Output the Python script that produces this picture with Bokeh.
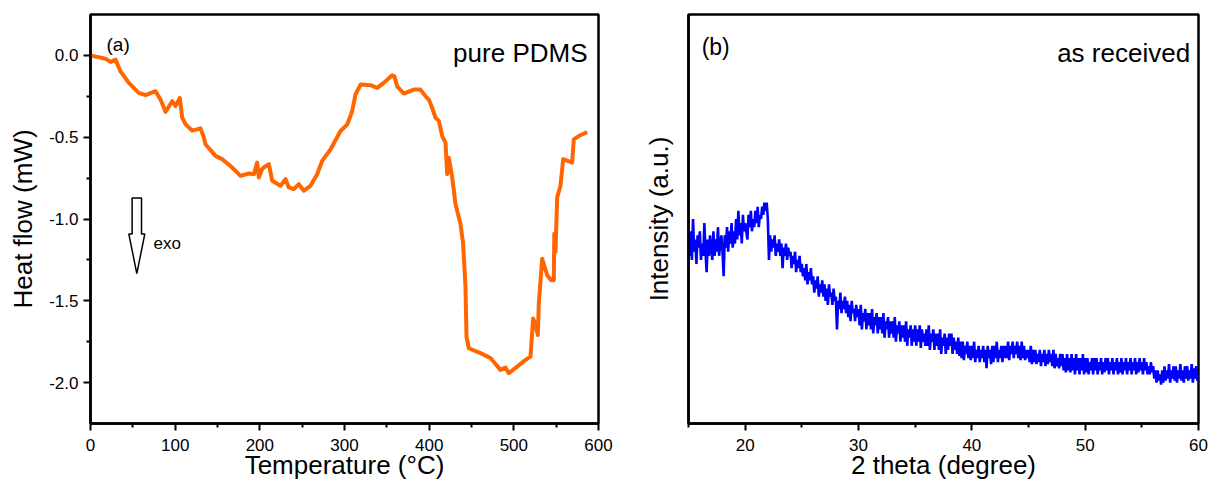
from bokeh.plotting import figure
from bokeh.layouts import row
from bokeh.models import Range1d, FixedTicker, Label, CustomJSTickFormatter
from bokeh.embed import file_html
from bokeh.resources import INLINE

FONT = "Liberation Sans"

# ---------------- data: (a) DSC of pure PDMS ----------------
dsc_temp = [0, 17.7, 23.6, 29.5, 35.4, 45.3, 57, 65, 76.8, 82.7,
            88.6, 96.5, 100.4, 105.5, 108.3, 112.2, 120.1, 129.9, 133.8, 135.8,
            147.6, 155.5, 167.3, 177.2, 187, 193, 196.8, 198.8, 202.7, 204.7,
            210.6, 214.6, 224.4, 230.3, 234.2, 240.1, 246, 252, 259.8, 267.7,
            273.6, 283.5, 295.3, 303.2, 309.1, 313, 318.9, 330.7, 338.6, 346.4,
            356.3, 359, 362.2, 370, 381.8, 389.7, 395.6, 399.6, 403.5, 407.5,
            411.4, 415.4, 419.3, 421.3, 423.2, 427.2, 431.1, 437, 440.1, 442.9,
            444.1, 446.8, 460.6, 472.4, 484.2, 490.1, 494, 503.9, 513.8, 519.7,
            522.8, 525.6, 528.3, 529.5, 533.5, 539.4, 544.1, 547.2, 547.8, 549.2,
            551.2, 555.1, 558.3, 568.9, 570.8, 576.7, 586.6]
dsc_heat = [0, -0.02, -0.04, -0.026, -0.097, -0.168, -0.229, -0.243, -0.219, -0.27,
            -0.345, -0.28, -0.31, -0.26, -0.38, -0.42, -0.46, -0.446, -0.50, -0.543,
            -0.614, -0.634, -0.685, -0.736, -0.722, -0.726, -0.655, -0.746, -0.695, -0.685,
            -0.665, -0.766, -0.797, -0.756, -0.807, -0.817, -0.787, -0.827, -0.797, -0.726,
            -0.645, -0.574, -0.462, -0.422, -0.341, -0.239, -0.178, -0.182, -0.199, -0.168,
            -0.122, -0.128, -0.189, -0.233, -0.209, -0.209, -0.249, -0.27, -0.32, -0.381,
            -0.40, -0.493, -0.533, -0.726, -0.625, -0.746, -0.908, -1.03, -1.15, -1.415,
            -1.72, -1.79, -1.82, -1.85, -1.922, -1.908, -1.942, -1.902, -1.861, -1.841,
            -1.608, -1.648, -1.709, -1.517, -1.243, -1.344, -1.375, -1.375, -1.09, -1.2,
            -0.868, -0.797, -0.634, -0.655, -0.513, -0.493, -0.468]

# ---------------- data: (b) XRD, as received (0.1 degree steps) ----------------
xrd_start = 15.0   # degree
xrd_step = 0.1     # degree
xrd_intensity = [
    44, 41, 47, 40, 50, 42, 45, 39, 46, 43,      # 15
    47, 40, 44, 41, 49, 42, 37, 45, 41, 46,      # 16
    43, 40, 47, 41, 45, 42, 48, 41, 44, 46,      # 17
    42, 36, 46, 43, 48, 42, 47, 44, 49, 43,      # 18
    47, 44, 50, 45, 52, 46, 49, 44, 51, 47,      # 19
    49, 47, 45, 51, 48, 52, 47, 50, 48, 52,      # 20
    49, 53, 48, 51, 50, 53, 51, 54, 52, 54,      # 21
    50, 40, 46, 42, 45, 43, 46, 41, 44, 42,      # 22
    45, 41, 44, 38, 43, 41, 44, 40, 43, 41,      # 23
    42, 38, 41, 39, 42, 37, 40, 38, 41, 37,      # 24
    39, 36, 38, 35, 39, 34, 37, 35, 38, 34,      # 25
    36, 32, 35, 33, 36, 31, 34, 32, 35, 31,      # 26
    34, 30, 33, 29, 34, 31, 32, 29, 33, 30,      # 27
    31, 23, 30, 28, 32, 27, 30, 28, 31, 27,      # 28
    30, 26, 29, 25, 30, 27, 28, 25, 29, 26,      # 29
    28, 24, 29, 23, 27, 25, 28, 23, 27, 24,      # 30
    27, 23, 28, 22, 26, 24, 27, 22, 26, 23,      # 31
    26, 22, 27, 21, 25, 23, 26, 21, 25, 22,      # 32
    25, 21, 26, 20, 24, 22, 25, 20, 24, 21,      # 33
    24, 20, 25, 19, 23, 21, 24, 19, 23, 20,      # 34
    24, 19, 23, 20, 24, 18.5, 23, 20, 22, 19,    # 35
    23, 19, 24, 18, 22, 20, 23, 18, 22, 19,      # 36
    22, 18, 23, 17, 21, 19, 22, 17, 21, 18,      # 37
    22, 19, 22, 17, 21, 18, 20, 17, 21, 16.5,    # 38
    20, 16, 20, 15.5, 19, 17, 20, 16, 19, 15.5,  # 39
    19, 16, 20, 15, 18, 16, 19, 15, 18, 16,      # 40
    19, 15, 18, 13.5, 19, 16, 18, 14.5, 19, 15,  # 41
    19, 16, 20, 15, 18, 16, 19, 15, 19, 16,      # 42
    19, 16, 20, 15.5, 19, 17, 20, 16, 19, 17,    # 43
    20, 16, 19, 15.5, 20, 16, 19, 15.5, 18, 16,  # 44
    18, 15, 19, 14.5, 18, 15, 18, 14.5, 17, 15,  # 45
    18, 14, 17, 15, 18, 14, 17, 14.5, 18, 15,    # 46
    17, 14, 18, 13.5, 17, 14, 16, 13.5, 17, 14,  # 47
    17, 13, 16, 12.5, 17, 13, 16, 12.5, 17, 13,  # 48
    16, 12, 17, 13, 16, 12, 16, 13, 17, 12,      # 49
    16, 12.5, 16, 12, 15, 13, 16, 12, 16, 13,    # 50
    16, 12, 15, 13, 16, 12, 15, 12.5, 16, 13,    # 51
    16, 12, 15, 13, 16, 12, 15, 13, 16, 12,      # 52
    15, 12.5, 16, 12, 15, 13, 16, 12, 15, 13,    # 53
    16, 12, 15, 13, 16, 12, 15, 12.5, 16, 13,    # 54
    15, 12, 16, 13, 15, 12, 14, 12, 15, 12.5,    # 55
    14, 11, 13, 10, 13, 10.5, 12, 9.5, 13, 10,   # 56
    14, 10.5, 13, 11, 14.5, 10, 13, 11, 14, 10.5,  # 57
    14, 10, 13, 11, 14.5, 10.5, 13, 10, 14, 11,  # 58
    14, 10.5, 13, 11, 14.5, 10, 13.5, 11, 14, 10.5,  # 59
    12,                                          # 60
]
xrd_two_theta = [round(xrd_start + i * xrd_step, 2) for i in range(len(xrd_intensity))]

# ---------------- ticks ----------------
dsc_xticks = [0, 100, 200, 300, 400, 500, 600]
dsc_xminor = [50, 150, 250, 350, 450, 550]
dsc_yticks = [-2.0, -1.5, -1.0, -0.5, 0.0]
dsc_yminor = [-1.75, -1.25, -0.75, -0.25]
xrd_xticks = [20, 30, 40, 50, 60]
xrd_xminor = [15, 25, 35, 45, 55]


def style(p):
    p.outline_line_color = "black"
    p.outline_line_width = 2.5
    p.outline_line_alpha = 1.0
    p.xgrid.visible = False
    p.ygrid.visible = False
    p.background_fill_color = "white"
    p.border_fill_color = "white"
    for ax in p.axis:
        ax.axis_line_width = 2.5
        ax.axis_line_color = "black"
        ax.major_tick_line_width = 2
        ax.minor_tick_line_width = 2
        ax.major_tick_in = 0
        ax.major_tick_out = 7
        ax.minor_tick_in = 0
        ax.minor_tick_out = 4
        ax.major_label_text_font = FONT
        ax.major_label_text_font_size = "17px"
        ax.major_label_text_color = "black"
        ax.axis_label_text_font = FONT
        ax.axis_label_text_font_size = "26px"
        ax.axis_label_text_font_style = "normal"
        ax.axis_label_text_color = "black"


# ---------------- panel (a) ----------------
p1 = figure(width=640, height=486, x_range=Range1d(0, 600), y_range=Range1d(-2.25, 0.25),
            output_backend="svg", toolbar_location=None,
            min_border_left=90, min_border_right=42, min_border_top=14, min_border_bottom=63)
style(p1)
p1.xaxis.ticker = FixedTicker(ticks=dsc_xticks, minor_ticks=dsc_xminor)
p1.yaxis.ticker = FixedTicker(ticks=dsc_yticks, minor_ticks=dsc_yminor)
p1.yaxis.formatter = CustomJSTickFormatter(code="return tick.toFixed(1);")
p1.xaxis.axis_label = "Temperature (°C)"
p1.yaxis.axis_label = "Heat flow (mW)"
p1.xaxis.major_label_standoff = 8
p1.xaxis.axis_label_standoff = -4
p1.yaxis.major_label_standoff = 5
p1.yaxis.axis_label_standoff = 8

p1.line(dsc_temp, dsc_heat, line_color="#ff6600", line_width=4, line_join="round")

# exo arrow (hollow)
cx, sh, hh = 54.7, 5.55, 9.45
ytop, yhead, ytip = -0.872, -1.091, -1.334
p1.patch([cx - sh, cx + sh, cx + sh, cx + hh, cx, cx - hh, cx - sh],
         [ytop, ytop, yhead, yhead, ytip, yhead, yhead],
         fill_color="white", line_color="black", line_width=1.5)

p1.add_layout(Label(x=18.9, y=0.064, text="(a)", text_font=FONT, text_font_size="19px",
                    text_baseline="alphabetic", text_align="left", text_color="black"))
p1.add_layout(Label(x=587, y=0.012, text="pure PDMS", text_font=FONT, text_font_size="26px",
                    text_baseline="alphabetic", text_align="right", text_color="black"))
p1.add_layout(Label(x=74.4, y=-1.15, text="exo", text_font=FONT, text_font_size="17px",
                    text_baseline="alphabetic", text_align="left", text_color="black"))

# ---------------- panel (b) ----------------
p2 = figure(width=572, height=486, x_range=Range1d(15, 60), y_range=Range1d(0, 100),
            output_backend="svg", toolbar_location=None,
            min_border_left=48, min_border_right=14, min_border_top=14, min_border_bottom=62)
style(p2)
p2.xaxis.ticker = FixedTicker(ticks=xrd_xticks, minor_ticks=xrd_xminor)
p2.yaxis.ticker = FixedTicker(ticks=[], minor_ticks=[])
p2.yaxis.major_tick_out = 0
p2.yaxis.minor_tick_out = 0
p2.xaxis.axis_label = "2 theta (degree)"
p2.yaxis.axis_label = "Intensity (a.u.)"
p2.xaxis.major_label_standoff = 8
p2.xaxis.axis_label_standoff = -4
p2.yaxis.major_label_standoff = 0
p2.yaxis.axis_label_standoff = 15

p2.line(xrd_two_theta, xrd_intensity, line_color="#0000ff", line_width=2.6)

p2.add_layout(Label(x=16.16, y=91.95, text="(b)", text_font=FONT, text_font_size="23px",
                    text_baseline="alphabetic", text_align="left", text_color="black"))
p2.add_layout(Label(x=59.26, y=90.7, text="as received", text_font=FONT, text_font_size="26px",
                    text_baseline="alphabetic", text_align="right", text_color="black"))

layout = row(p1, p2)
open("out.html", "w").write(file_html(layout, INLINE))
